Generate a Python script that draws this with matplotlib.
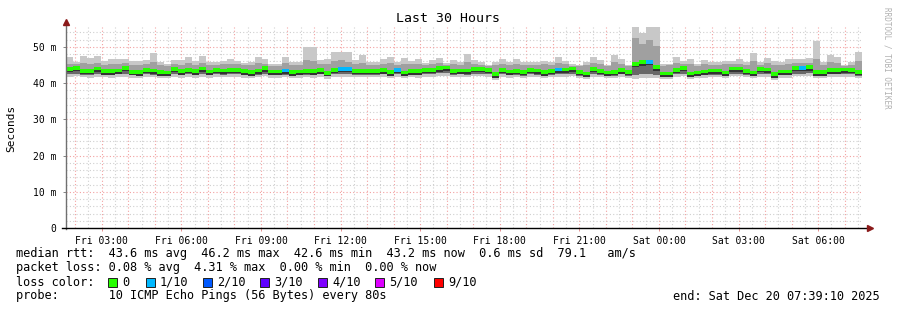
import matplotlib
matplotlib.use("Agg")
import matplotlib.pyplot as plt
import matplotlib.dates as mdates
import pandas as pd
import numpy as np
from matplotlib.lines import Line2D
from matplotlib.patches import Rectangle

plt.rcParams['font.family'] = ['DejaVu Sans Mono']

# time window (last 30 hours)
end_time = pd.Timestamp("2025-12-20 07:39:10")
start_time = end_time - pd.Timedelta(hours=30)
n_steps = 114

# median rtt per step (ms)
median = [43.9, 44.2, 43.4, 43.4, 44.0, 43.3, 43.3, 43.5, 44.2, 43.1, 43.0, 43.7, 43.5, 43.0, 42.9, 43.9, 43.3, 43.7, 43.3, 44.0, 43.2, 43.7, 43.5,
          43.7, 43.7, 43.3, 43.0, 43.5, 44.1, 43.2, 43.2, 43.5, 43.0, 43.2, 43.4, 43.3, 43.6, 42.8, 43.7, 43.9, 43.9, 43.4, 43.4, 43.4, 43.4, 43.6,
          43.0, 43.7, 42.9, 43.3, 43.3, 43.7, 43.7, 44.1, 44.3, 43.4, 43.5, 43.5, 43.9, 43.9, 43.7, 42.5, 43.7, 43.2, 43.4, 43.1, 43.7, 43.5, 43.0,
          43.4, 43.8, 43.8, 44.0, 43.1, 42.7, 43.9, 43.4, 42.9, 43.1, 43.6, 43.1, 45.3, 45.8, 45.9, 44.4, 42.7, 42.7, 43.7, 44.2, 42.7, 42.9,
          43.2, 43.5, 43.5, 42.9, 44.0, 44.0, 43.4, 42.9, 43.9, 43.8, 42.5, 43.2, 43.2, 44.2, 44.2, 44.4, 43.0, 43.0, 43.6, 43.6, 43.8, 43.7, 43.1]

# packet loss per step (lost pings out of 10)
loss = [0] * n_steps
for k in [31, 39, 40, 47, 70, 83, 105]:
    loss[k] = 1

# smoke: highest ping, upper band, lower band, lowest ping (ms)
smoke_max = [47.2, 45.8, 47.5, 46.9, 47.5, 46.1, 46.8, 46.7, 46.8, 46.1, 46.0, 46.5, 48.3, 45.8, 45.2, 46.5, 46.5, 47.2, 46.1, 47.5, 45.8, 45.8, 46.1,
             46.7, 46.1, 45.6, 45.7, 47.2, 46.7, 45.3, 45.3, 47.2, 45.7, 45.7, 49.9, 49.9, 46.5, 46.7, 48.5, 48.5, 48.5, 46.4, 47.7, 45.7, 45.7, 46.7,
             47.2, 45.8, 47.0, 46.1, 46.8, 45.6, 46.5, 47.0, 45.6, 46.3, 45.9, 48.0, 46.3, 45.7, 45.0, 45.8, 46.7, 45.7, 46.7, 45.7, 45.9, 45.7, 46.1,
             45.8, 47.2, 46.1, 45.2, 45.0, 45.8, 47.2, 46.4, 45.0, 47.7, 46.8, 45.0, 55.5, 53.9, 55.5, 55.5, 45.2, 45.4, 47.2, 46.1, 46.7, 45.2,
             46.4, 45.8, 45.8, 46.1, 46.1, 46.7, 45.8, 48.3, 45.8, 47.0, 46.1, 45.8, 46.7, 46.7, 46.7, 47.0, 51.5, 45.8, 47.7, 47.2, 45.0, 45.8, 48.6]
smoke_hi = [45.4, 45.3, 45.6, 45.2, 45.6, 45.0, 45.4, 45.3, 45.5, 45.0, 44.9, 45.2, 45.8, 45.0, 44.7, 45.3, 45.1, 45.5, 45.0, 45.6, 45.0, 45.1, 45.2,
            45.3, 45.2, 45.0, 44.9, 45.5, 45.4, 44.8, 44.8, 45.6, 45.0, 45.0, 46.4, 46.2, 45.3, 45.2, 46.0, 46.3, 45.8, 45.2, 45.6, 45.0, 44.9, 45.3,
            45.5, 45.1, 45.4, 45.2, 45.4, 44.9, 45.3, 45.5, 44.9, 45.2, 45.0, 45.9, 45.3, 45.0, 44.6, 45.0, 45.4, 45.0, 45.4, 45.0, 45.1, 45.0, 45.2,
            45.0, 45.6, 45.2, 44.8, 44.6, 45.0, 45.6, 45.3, 44.6, 45.8, 45.4, 44.6, 52.5, 50.8, 51.8, 50.2, 44.8, 44.9, 45.6, 45.2, 45.3, 44.8,
            45.2, 45.0, 45.0, 45.2, 45.2, 45.4, 45.0, 46.0, 45.0, 45.5, 45.1, 45.0, 45.4, 45.5, 45.6, 45.6, 46.8, 45.0, 45.8, 45.5, 44.6, 45.0, 46.0]
smoke_lo = [42.4, 42.6, 42.3, 42.2, 42.5, 42.3, 42.2, 42.4, 42.5, 42.2, 42.1, 42.4, 42.3, 42.1, 42.0, 42.5, 42.2, 42.4, 42.2, 42.5, 42.2, 42.4, 42.3,
            42.4, 42.4, 42.2, 42.0, 42.3, 42.6, 42.2, 42.2, 42.3, 42.0, 42.2, 42.3, 42.2, 42.4, 41.9, 42.4, 42.5, 42.4, 42.3, 42.3, 42.3, 42.3, 42.4,
            42.1, 42.4, 42.0, 42.3, 42.2, 42.5, 42.5, 42.7, 42.8, 42.3, 42.4, 42.3, 42.6, 42.6, 42.4, 41.7, 42.4, 42.2, 42.3, 42.1, 42.4, 42.3, 42.0,
            42.3, 42.5, 42.5, 42.6, 42.1, 41.8, 42.5, 42.3, 42.0, 42.1, 42.4, 42.1, 42.3, 42.5, 42.6, 42.2, 41.8, 41.8, 42.4, 42.6, 41.8, 42.0,
            42.2, 42.3, 42.3, 42.0, 42.6, 42.6, 42.3, 42.0, 42.5, 42.5, 41.7, 42.2, 42.2, 42.6, 42.6, 42.7, 42.1, 42.1, 42.4, 42.4, 42.5, 42.4, 42.1]
smoke_min = [41.7, 41.9, 41.6, 41.5, 41.8, 41.6, 41.5, 41.7, 41.8, 41.5, 41.4, 41.7, 41.6, 41.4, 41.3, 41.8, 41.5, 41.7, 41.5, 41.8, 41.5, 41.7, 41.6,
             41.7, 41.7, 41.5, 41.3, 41.6, 41.9, 41.5, 41.5, 41.6, 41.3, 41.5, 41.6, 41.5, 41.7, 41.2, 41.7, 41.8, 41.7, 41.6, 41.6, 41.6, 41.6, 41.7,
             41.4, 41.7, 41.3, 41.6, 41.5, 41.8, 41.8, 42.0, 42.0, 41.6, 41.7, 41.6, 41.9, 41.9, 41.7, 41.0, 41.7, 41.5, 41.6, 41.4, 41.7, 41.6, 41.3,
             41.6, 41.8, 41.8, 41.9, 41.4, 41.1, 41.8, 41.6, 41.3, 41.4, 41.7, 41.4, 41.2, 41.4, 41.5, 41.3, 41.1, 41.1, 41.7, 41.9, 41.1, 41.3,
             41.5, 41.6, 41.6, 41.3, 41.9, 41.9, 41.6, 41.3, 41.8, 41.8, 41.0, 41.5, 41.5, 41.9, 41.9, 42.0, 41.4, 41.4, 41.7, 41.7, 41.8, 41.7, 41.4]

loss_colors = ['#26ff00', '#00b8ff', '#0059ff', '#5e00ff', '#7e00ff', '#dd00ff', '#ff0000']
loss_labels = ['0', '1/10', '2/10', '3/10', '4/10', '5/10', '9/10']
loss_levels = [0, 1, 2, 3, 4, 5, 9]

tick_labels = ['Fri 03:00', 'Fri 06:00', 'Fri 09:00', 'Fri 12:00', 'Fri 15:00',
               'Fri 18:00', 'Fri 21:00', 'Sat 00:00', 'Sat 03:00', 'Sat 06:00']

W, H = 897, 310
fig = plt.figure(figsize=(W / 100, H / 100), dpi=100)
fig.patch.set_facecolor('white')
ax = fig.add_axes([66 / W, (H - 228) / H, 796 / W, 201 / H])
ax.set_facecolor('white')

edges = pd.date_range(start_time, end_time, periods=n_steps + 1)
x0 = mdates.date2num(edges[:-1])
width = mdates.date2num(edges[1]) - mdates.date2num(edges[0])

med = np.array(median)
lo = np.array(smoke_lo)
hi = np.array(smoke_hi)
mx = np.array(smoke_max)
mn = np.array(smoke_min)

# smoke
ax.bar(x0, mx - mn, bottom=mn, width=width, align='edge', color='#c8c8c8', linewidth=0, zorder=2)
ax.bar(x0, hi - lo, bottom=lo, width=width, align='edge', color='#a0a0a0', linewidth=0, zorder=3)
ax.bar(x0, med - lo, bottom=lo, width=width, align='edge', color='#686868', linewidth=0, zorder=4)
ax.bar(x0, 0.5, bottom=med - 0.95, width=width, align='edge', color='#333333', linewidth=0, zorder=5)
# median line coloured by loss
cols = [loss_colors[loss_levels.index(l)] for l in loss]
ax.bar(x0, 1.0, bottom=med - 0.5, width=width, align='edge', color=cols, linewidth=0, zorder=6)

ax.set_ylim(0, 55.5)
ax.set_xlim(mdates.date2num(start_time), mdates.date2num(end_time))

# grid
dot = (0, (1, 2))
for h in pd.date_range(start_time.ceil('30min'), end_time, freq='30min'):
    c = '#f2a0a0' if h.minute == 0 else '#cfcfcf'
    ax.axvline(mdates.date2num(h), color=c, lw=0.8, ls=dot, zorder=1)
for v in range(2, 56, 2):
    c = '#f2a0a0' if v % 10 == 0 else '#cfcfcf'
    ax.axhline(v, color=c, lw=0.8, ls=dot, zorder=1)

for s in ax.spines.values():
    s.set_visible(False)

tick_pos = pd.date_range(start_time.ceil('3h'), end_time, freq='3h')
ax.set_xticks(mdates.date2num(tick_pos))
ax.set_xticklabels(tick_labels, fontsize=7)
ax.set_yticks([0, 10, 20, 30, 40, 50])
ax.set_yticklabels(['0', '10 m', '20 m', '30 m', '40 m', '50 m'], fontsize=7)
ax.tick_params(axis='x', length=2, width=0.6, color='#e08080', pad=4)
ax.tick_params(axis='y', length=2, width=0.6, color='#707070', pad=5)

# axes lines with arrows
fig.add_artist(Line2D([66 / W, 66 / W], [(H - 229) / H, (H - 22) / H], color='#707070', lw=1))
fig.add_artist(Line2D([62 / W, 868 / W], [(H - 228) / H, (H - 228) / H], color='#000000', lw=1))
fig.add_artist(Line2D([66 / W], [(H - 22) / H], marker='^', color='#8b1a1a', markersize=4, lw=0))
fig.add_artist(Line2D([870 / W], [(H - 228) / H], marker='>', color='#8b1a1a', markersize=4, lw=0))


def ft(x, y, s, **kw):
    fig.text(x / W, (H - y) / H, s, va='center', **kw)


fs = 8.6
ft(448, 19, 'Last 30 Hours', ha='center', fontsize=9.5)
ft(11, 128, 'Seconds', ha='center', rotation=90, fontsize=8)
ft(887, 58, 'RRDTOOL / TOBI OETIKER', ha='center', rotation=270, fontsize=5.5, color='#b0b0b0')

ft(16, 254, 'median rtt:  43.6 ms avg  46.2 ms max  42.6 ms min  43.2 ms now  0.6 ms sd  79.1   am/s', fontsize=fs)
ft(16, 268, 'packet loss: 0.08 % avg  4.31 % max  0.00 % min  0.00 % now', fontsize=fs)
ft(16, 282, 'loss color:', fontsize=fs)
box_x = [108, 146, 203, 260, 318, 375, 434]
for bx, c, lab in zip(box_x, loss_colors, loss_labels):
    fig.add_artist(Rectangle((bx / W, (H - 287) / H), 9 / W, 9 / H, facecolor=c, edgecolor='#202020', lw=0.7))
    ft(bx + 14, 282, lab, fontsize=fs)
ft(16, 296, 'probe:       10 ICMP Echo Pings (56 Bytes) every 80s', fontsize=fs)
ft(880, 296, 'end: Sat Dec 20 07:39:10 2025', ha='right', fontsize=fs)

fig.savefig('out.png', dpi=100)
